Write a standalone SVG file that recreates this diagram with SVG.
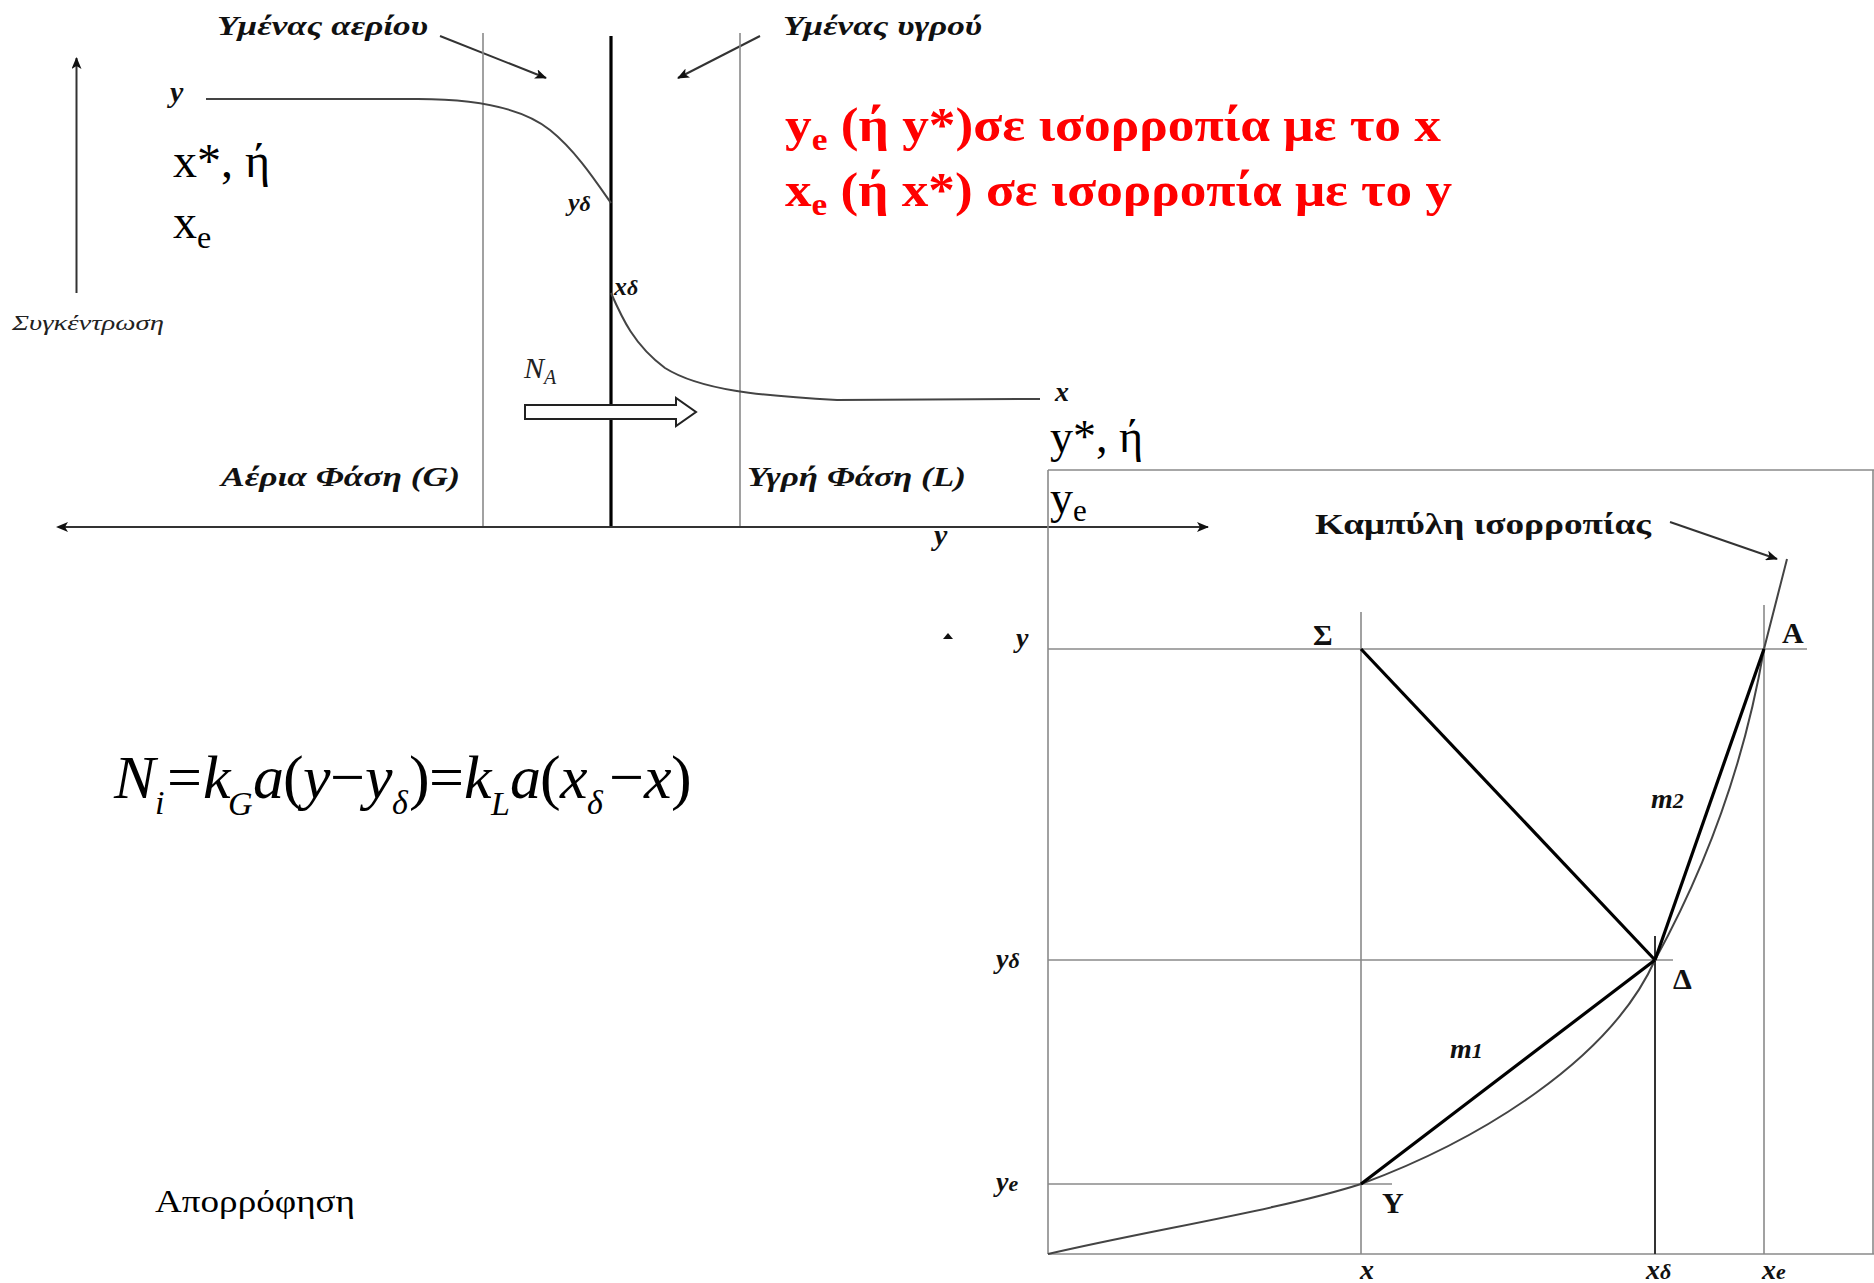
<svg xmlns="http://www.w3.org/2000/svg" width="1874" height="1283" viewBox="0 0 1874 1283">
<style>
.thin{stroke:#8a8a8a;stroke-width:1.6;fill:none}
.med{stroke:#333;stroke-width:2;fill:none}
.thick{stroke:#000;stroke-width:3.2;fill:none}
.curve{stroke:#444;stroke-width:2;fill:none}
.bi{font-family:"Liberation Serif",serif;font-weight:bold;font-style:italic;fill:#111}
.b{font-family:"Liberation Serif",serif;font-weight:bold;fill:#111}
.r{font-family:"Liberation Serif",serif;fill:#000}
.i{font-family:"Liberation Serif",serif;font-style:italic;fill:#222}
.red{font-family:"Liberation Serif",serif;font-weight:bold;fill:#ff0000}
.eq{font-family:"Liberation Serif",serif;font-style:italic;font-size:62px;fill:#000}
.eqs{font-family:"Liberation Serif",serif;font-style:italic;font-size:34px;fill:#000}
.eqn{font-family:"Liberation Serif",serif;font-size:62px;fill:#000}
</style>
<defs>
<marker id="ah" markerWidth="12" markerHeight="10" refX="11" refY="5" orient="auto" markerUnits="userSpaceOnUse">
<path d="M0,0 L12,5 L0,10 L3,5 Z" fill="#111"/>
</marker>
</defs>
<rect width="1874" height="1283" fill="#fff"/>

<g id="connectors">
<line x1="76.5" y1="293" x2="76.5" y2="58" class="med" marker-end="url(#ah)"/>
<line x1="440" y1="36" x2="546" y2="78" class="med" marker-end="url(#ah)"/>
<line x1="760" y1="36" x2="678" y2="78" class="med" marker-end="url(#ah)"/>
<line x1="483" y1="33" x2="483" y2="527" class="thin"/>
<line x1="611" y1="36" x2="611" y2="527" class="thick"/>
<line x1="740" y1="33" x2="740" y2="527" class="thin"/>
<line x1="60" y1="527" x2="1208" y2="527" class="med" marker-end="url(#ah)"/>
<path d="M56,527 L68,522 L65,527 L68,532 Z" fill="#111"/>
<path d="M206,99 L418,99 C470,99 520,106 550,130 C575,150 595,180 611,203" class="curve"/>
<path d="M611,293 C622,318 634,345 665,368 C700,390 760,396 837,400 L1040,399" class="curve"/>
<path d="M525,405 L676,405 L676,398 L696,412 L676,426 L676,419 L525,419 Z" fill="#fff" stroke="#222" stroke-width="2"/>

<line x1="1048" y1="470" x2="1874" y2="470" class="thin"/>
<line x1="1048" y1="470" x2="1048" y2="1254" class="thin"/>
<line x1="1873" y1="470" x2="1873" y2="1254" class="thin"/>
<line x1="1048" y1="1254" x2="1874" y2="1254" class="thin"/>
<line x1="1048" y1="649" x2="1807" y2="649" class="thin"/>
<line x1="1361" y1="612" x2="1361" y2="1254" class="thin"/>
<line x1="1764" y1="605" x2="1764" y2="1254" class="thin"/>
<line x1="1655" y1="936" x2="1655" y2="1254" class="med"/>
<line x1="1048" y1="960" x2="1673" y2="960" class="thin"/>
<line x1="1048" y1="1184" x2="1392" y2="1184" class="thin"/>
<path d="M1048,1254 C1150,1230 1280,1210 1361,1184 C1480,1140 1610,1060 1655,960 C1710,860 1745,760 1764,649 L1787,559" class="curve"/>
<line x1="1361" y1="649" x2="1655" y2="960" class="thick"/>
<line x1="1361" y1="1184" x2="1655" y2="960" class="thick"/>
<line x1="1655" y1="960" x2="1764" y2="649" class="thick"/>
<line x1="1670" y1="522" x2="1777" y2="559" class="med" marker-end="url(#ah)"/>
<path d="M943,639 L948,633 L953,639 Z" fill="#111"/>
</g>

<g id="labels">
<text x="12" y="330" class="i" font-size="22" textLength="152" lengthAdjust="spacingAndGlyphs">Συγκέντρωση</text>
<text x="217" y="35" class="bi" font-size="27" textLength="211" lengthAdjust="spacingAndGlyphs">Υμένας αερίου</text>
<text x="783" y="35" class="bi" font-size="27" textLength="199" lengthAdjust="spacingAndGlyphs">Υμένας υγρού</text>
<text x="170" y="102" class="bi" font-size="30">y</text>
<text x="568" y="211" class="bi" font-size="26">y<tspan font-size="22">δ</tspan></text>
<text x="614" y="295" class="bi" font-size="26">x<tspan font-size="22">δ</tspan></text>
<text x="1055" y="401" class="bi" font-size="28">x</text>
<text x="173" y="177" class="r" font-size="48">x*, ή</text>
<text x="173" y="238" class="r" font-size="48">x<tspan font-size="32" dy="10">e</tspan></text>
<text x="524" y="378" class="i" font-size="30">N<tspan font-size="20" dy="6">A</tspan></text>
<text x="221" y="486" class="bi" font-size="28" textLength="239" lengthAdjust="spacingAndGlyphs">Αέρια Φάση (G)</text>
<text x="747" y="486" class="bi" font-size="28" textLength="219" lengthAdjust="spacingAndGlyphs">Υγρή Φάση (L)</text>
<text x="934" y="545" class="bi" font-size="30">y</text>
<text x="1050" y="452" class="r" font-size="46">y*, ή</text>
<text x="1050" y="513" class="r" font-size="46">y<tspan font-size="31" dy="8">e</tspan></text>

<text x="785" y="141" class="red" font-size="48" textLength="656" lengthAdjust="spacingAndGlyphs">y<tspan font-size="32" dy="9">e</tspan><tspan dy="-9"> (ή y*)σε ισορροπία με το x</tspan></text>
<text x="785" y="206" class="red" font-size="48" textLength="667" lengthAdjust="spacingAndGlyphs">x<tspan font-size="32" dy="9">e</tspan><tspan dy="-9"> (ή x*) σε ισορροπία με το y</tspan></text>

<text x="1315" y="534" class="b" font-size="30" textLength="336" lengthAdjust="spacingAndGlyphs">Καμπύλη ισορροπίας</text>
<text x="1313" y="645" class="b" font-size="30">Σ</text>
<text x="1782" y="643" class="b" font-size="30">A</text>
<text x="1673" y="989" class="b" font-size="30">Δ</text>
<text x="1382" y="1213" class="b" font-size="30">Y</text>
<text x="1651" y="808" class="bi" font-size="28">m<tspan font-size="22">2</tspan></text>
<text x="1450" y="1058" class="bi" font-size="28">m<tspan font-size="22">1</tspan></text>
<text x="1016" y="647" class="bi" font-size="28">y</text>
<text x="996" y="968" class="bi" font-size="28">y<tspan font-size="22">δ</tspan></text>
<text x="996" y="1191" class="bi" font-size="28">y<tspan font-size="22">e</tspan></text>
<text x="1360" y="1279" class="bi" font-size="28">x</text>
<text x="1646" y="1279" class="bi" font-size="28">x<tspan font-size="22">δ</tspan></text>
<text x="1762" y="1279" class="bi" font-size="28">x<tspan font-size="22">e</tspan></text>
</g>

<g id="equation">
<text x="114" y="798" class="eq">N</text>
<text x="155" y="814" class="eqs">i</text>
<text x="167" y="798" class="eqn">=</text>
<text x="203" y="798" class="eq">k</text>
<text x="228" y="815" class="eqs">G</text>
<text x="253" y="798" class="eq">a</text>
<text x="283" y="798" class="eqn">(</text>
<text x="303" y="798" class="eq">y</text>
<text x="330" y="798" class="eqn">−</text>
<text x="365" y="798" class="eq">y</text>
<text x="392" y="814" class="eqs">δ</text>
<text x="409" y="798" class="eqn">)</text>
<text x="429" y="798" class="eqn">=</text>
<text x="464" y="798" class="eq">k</text>
<text x="491" y="815" class="eqs">L</text>
<text x="510" y="798" class="eq">a</text>
<text x="540" y="798" class="eqn">(</text>
<text x="560" y="798" class="eq">x</text>
<text x="587" y="814" class="eqs">δ</text>
<text x="609" y="798" class="eqn">−</text>
<text x="644" y="798" class="eq">x</text>
<text x="671" y="798" class="eqn">)</text>
</g>

<text x="155" y="1212" class="r" font-size="32" textLength="200" lengthAdjust="spacingAndGlyphs">Απορρόφηση</text>
</svg>
